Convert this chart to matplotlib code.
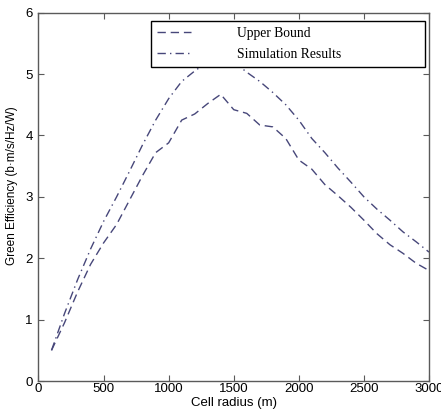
import matplotlib
matplotlib.use("Agg")
import matplotlib.pyplot as plt

# cell radius (m)
radius = [100, 200, 300, 400, 500, 600, 700, 800, 900, 1000,
          1100, 1200, 1300, 1400, 1500, 1600, 1700, 1800, 1900, 2000,
          2100, 2200, 2300, 2400, 2500, 2600, 2700, 2800, 2900, 3000]

# green efficiency
upper_bound = [0.50, 0.95, 1.45, 1.90, 2.25, 2.55, 2.95, 3.35, 3.72, 3.88,
               4.25, 4.35, 4.52, 4.67, 4.42, 4.36, 4.17, 4.14, 3.95, 3.60,
               3.45, 3.20, 3.02, 2.83, 2.62, 2.40, 2.22, 2.08, 1.92, 1.80]
simulation = [0.50, 1.10, 1.65, 2.15, 2.60, 3.00, 3.42, 3.85, 4.25, 4.60,
              4.88, 5.05, 5.20, 5.30, 5.20, 5.03, 4.88, 4.70, 4.50, 4.25,
              3.95, 3.72, 3.47, 3.24, 3.00, 2.80, 2.62, 2.43, 2.27, 2.10]

xticks = [0, 500, 1000, 1500, 2000, 2500, 3000]
yticks = [0, 1, 2, 3, 4, 5, 6]

line_color = '#47477a'
spine_color = '#5a5a5a'

fig = plt.figure(figsize=(4.41, 4.12), dpi=100)
ax = fig.add_axes([0.0873, 0.0752, 0.8855, 0.894])

ax.plot(radius, upper_bound, linestyle=(0, (6, 3.5)), color=line_color,
        linewidth=1.0, label='Upper Bound')
ax.plot(radius, simulation, linestyle=(0, (6, 3, 1, 3)), color=line_color,
        linewidth=1.0, label='Simulation Results')

ax.set_xlim(0, 3000)
ax.set_ylim(0, 6)
ax.set_xticks(xticks)
ax.set_yticks(yticks)
ax.tick_params(direction='in', top=True, right=True, length=4,
               color=spine_color, labelsize=9.5)
ax.tick_params(axis='x', pad=1.5)
ax.tick_params(axis='y', pad=4)
for lbl in ax.get_xticklabels() + ax.get_yticklabels():
    lbl.set_fontfamily('Liberation Sans')
for sp in ax.spines.values():
    sp.set_color(spine_color)
    sp.set_linewidth(1.0)

ax.set_xlabel('Cell radius (m)', fontsize=9.5, family='Liberation Sans', labelpad=1.5)
ax.set_ylabel('Green Efficiency (b\u00b7m/s/Hz/W)', fontsize=8.5,
              family='Liberation Sans')
# the label sits a little above the axes centre in the original
ax.yaxis.set_label_coords(-0.052, 0.53)

leg = ax.legend(loc='upper left', bbox_to_anchor=(0.342, 0.8405, 0.622, 0.1095),
                bbox_transform=fig.transFigure, mode='expand', fancybox=False,
                edgecolor='black', framealpha=1.0, handlelength=2.5,
                handletextpad=3.4, borderaxespad=0, borderpad=0.45,
                labelspacing=0.62,
                prop={'family': 'Liberation Serif', 'size': 9.8})
leg.get_frame().set_linewidth(1.0)

fig.savefig('out.png', dpi=100)
